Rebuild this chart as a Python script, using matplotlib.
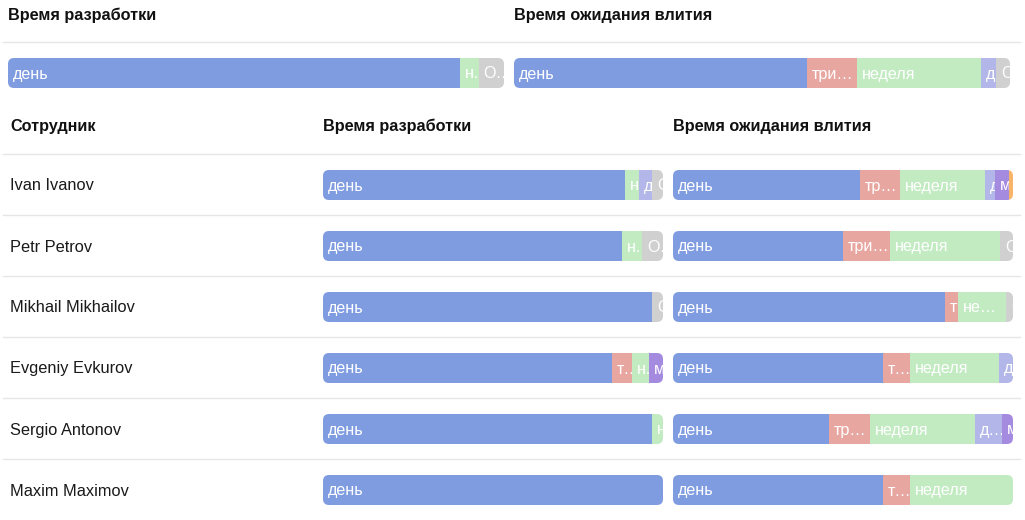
import matplotlib
matplotlib.use("Agg")
import matplotlib.pyplot as plt
from matplotlib.patches import FancyBboxPatch
from matplotlib.font_manager import FontProperties
from matplotlib.transforms import offset_copy, Bbox, TransformedBbox

plt.rcParams['font.family'] = ['Liberation Sans', 'DejaVu Sans']

# категории сроков и их цвета
categories = ["день", "три дня", "неделя", "две недели", "месяц", "больше месяца", "Открыт"]
colors = ["#7f9ce0", "#e8a6a1", "#c2ebc2", "#b3b6e8", "#a58be0", "#f8b56a", "#d0d0d0"]

# общие итоги, % по категориям
total_dev = [91.1, 0, 3.8, 0, 0, 0, 5.1]
total_wait = [59.1, 10.1, 25.0, 3.0, 0, 0, 2.8]

employees = ["Ivan Ivanov", "Petr Petrov", "Mikhail Mikhailov",
             "Evgeniy Evkurov", "Sergio Antonov", "Maxim Maximov"]
dev_time = [
    [88.8, 0, 4.1, 3.8, 0, 0, 3.3],
    [87.9, 0, 5.9, 0, 0, 0, 6.2],
    [96.8, 0, 0, 0, 0, 0, 3.2],
    [85.0, 5.9, 5.0, 0, 4.1, 0, 0],
    [96.8, 0, 3.2, 0, 0, 0, 0],
    [100, 0, 0, 0, 0, 0, 0],
]
wait_time = [
    [55.0, 11.8, 25.0, 2.9, 4.1, 1.2, 0],
    [50.0, 13.8, 32.4, 0, 0, 0, 3.8],
    [80.0, 3.8, 14.1, 0, 0, 0, 2.1],
    [61.8, 7.9, 26.2, 4.1, 0, 0, 0],
    [45.9, 12.1, 30.9, 7.9, 3.2, 0, 0],
    [61.8, 7.9, 30.3, 0, 0, 0, 0],
]

W, H = 1025, 520
fig = plt.figure(figsize=(W / 100, H / 100), dpi=100)
renderer = fig.canvas.get_renderer()
label_font = FontProperties(family=['Liberation Sans', 'DejaVu Sans'], size=11.6)

# фон для заголовков и линий (в пикселях)
bg = fig.add_axes([0, 0, 1, 1])
bg.set_xlim(0, W)
bg.set_ylim(H, 0)
bg.axis('off')


def text_w(s):
    w, h, d = renderer.get_text_width_height_descent(s, label_font, ismath=False)
    return w


def fit_label(s, avail):
    if text_w(s) <= avail:
        return s
    for n in range(len(s) - 1, 0, -1):
        t = s[:n].rstrip() + "\u2026"
        if text_w(t) <= avail:
            return t
    return s[0] + "\u2026"


def draw_bar(x, y, w, h, vals):
    ax = fig.add_axes([x / W, 1 - (y + h) / H, w / W, h / H])
    total = sum(vals)
    ax.set_xlim(0, total)
    ax.set_ylim(0, 1)
    ax.axis('off')
    r = 6
    clip = FancyBboxPatch((0, 0), 1, 1, boxstyle="round,pad=0,rounding_size=%f" % (r / w),
                          mutation_aspect=w / h, transform=ax.transAxes,
                          facecolor='none', edgecolor='none')
    ax.add_patch(clip)
    left = 0
    for v, c, name in zip(vals, colors, categories):
        if v <= 0:
            continue
        rect = ax.barh(0.5, v, left=left, height=1, color=c, linewidth=0)[0]
        rect.set_clip_path(clip)
        seg_px = v / total * w
        lab = fit_label(name, seg_px - 5)
        tr = offset_copy(ax.transData, fig=fig, x=5, y=-1, units='dots')
        t = ax.text(left, 0.5, lab, transform=tr, color='white', fontproperties=label_font,
                    va='center', ha='left')
        t.set_clip_path(None)
        t.set_clip_box(TransformedBbox(Bbox([[left, 0], [left + v, 1]]), ax.transData))
        t.set_clip_on(True)
        left += v


head = dict(fontsize=11.7, fontweight='bold', va='center', color='#111')

# верхний блок
bg.text(8, 15.5, "Время разработки", **head)
bg.text(514, 15.5, "Время ожидания влития", **head)
bg.plot([3, 1020], [42, 42], color='#e6e6e6', lw=1)
draw_bar(8, 58, 496, 30, total_dev)
draw_bar(514, 58, 496, 30, total_wait)

# таблица
bg.text(10, 126, "Сотрудник", **head)
bg.text(323, 126, "Время разработки", **head)
bg.text(673, 126, "Время ожидания влития", **head)

row_h = 61
for i, name in enumerate(employees):
    top = 154 + i * row_h
    bg.plot([3, 1020], [top, top], color='#e6e6e6', lw=1)
    cy = top + 31
    bg.text(10, cy + 1, name, fontsize=11.8, va='center', color='#1a1a1a')
    draw_bar(323, cy - 15, 340, 30, dev_time[i])
    draw_bar(673, cy - 15, 340, 30, wait_time[i])

fig.savefig("out.png", dpi=100, facecolor='white')
